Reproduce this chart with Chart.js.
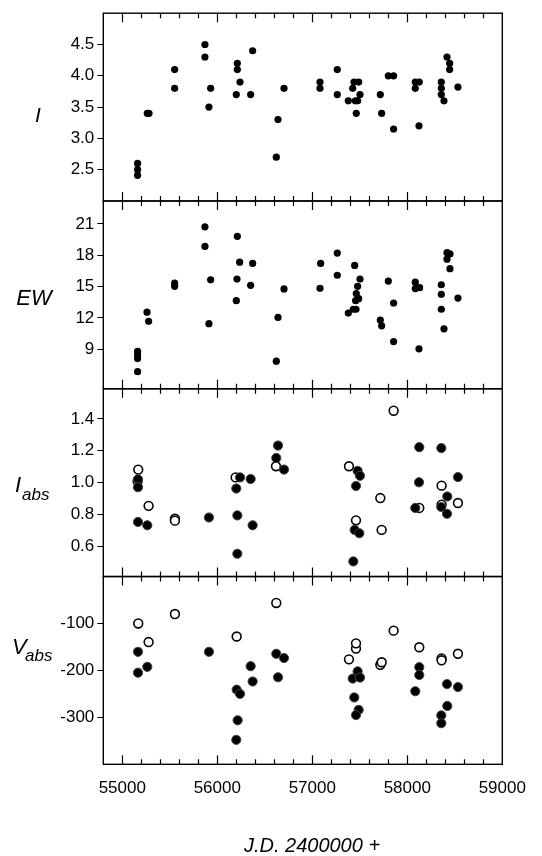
<!DOCTYPE html>
<html>
<head>
<meta charset="utf-8">
<script src="https://cdn.jsdelivr.net/npm/chart.js@4.4.1/dist/chart.umd.min.js"></script>
<style>
  html, body { margin: 0; padding: 0; background: #fff; }
  canvas { display: block; }
</style>
</head>
<body>
<canvas id="grafico" width="542" height="856"></canvas>
<script>
// ---- dados ----
const jdI  = [55161,55161,55161,55263,55281,55551,55551,55870,55870,55912,55930,56211,56211,56239,56200,56351,56372,56639,56621,56702,57081,57081,57263,57263,57379,57425,57439,57488,57453,57477,57463,57502,57716,57730,57800,57856,57856,58084,58084,58126,58123,58358,58358,58358,58386,58418,58446,58446,58533];
const valI = [2.60,2.50,2.41,3.40,3.40,4.10,3.80,4.50,4.30,3.50,3.80,4.20,4.10,3.90,3.70,3.70,4.40,3.30,2.70,3.80,3.90,3.80,4.10,3.70,3.60,3.80,3.90,3.90,3.60,3.60,3.40,3.70,3.70,3.40,4.00,4.00,3.15,3.80,3.90,3.90,3.20,3.90,3.80,3.70,3.60,4.30,4.20,4.10,3.82];

const jdEW  = [55161,55161,55161,55161,55260,55277,55551,55551,55870,55870,55930,55912,56211,56235,56207,56200,56351,56372,56639,56621,56702,57088,57081,57263,57263,57446,57379,57432,57460,57456,57463,57477,57488,57502,57716,57730,57800,57856,57856,58084,58084,58130,58123,58358,58358,58358,58386,58418,58449,58418,58449,58533];
const valEW = [8.78,8.47,8.09,6.84,12.54,11.66,15.33,15.02,20.72,18.84,15.64,11.44,19.81,17.33,15.71,13.64,15.11,17.21,12.04,7.84,14.77,17.21,14.83,18.21,16.08,17.02,12.45,12.82,12.82,13.64,14.33,15.02,13.83,15.71,11.79,11.23,15.52,13.42,9.72,15.42,14.80,14.89,9.03,15.17,14.26,12.82,10.94,18.24,18.12,17.62,16.71,13.89];

const jdIabsCheio  = [55165,55165,55165,55263,55912,56211,56211,56200,56239,56351,56372,56639,56621,56702,57477,57502,57460,57446,57495,57432,58126,58123,58084,58358,58421,58418,58358,58533];
const valIabsCheio = [1.021,0.971,0.753,0.732,0.781,0.553,0.794,0.963,1.033,1.023,0.732,1.233,1.155,1.082,1.074,1.043,0.979,0.703,0.682,0.505,1.223,1.002,0.841,1.217,0.913,0.804,0.847,1.035];
const jdIabsAberto  = [55168,55161,55277,55554,55554,56193,56618,57386,57460,57716,57730,57856,58126,58361,58361,58533];
const valIabsAberto = [1.082,1.008,0.854,0.773,0.761,1.033,1.103,1.103,0.763,0.903,0.703,1.452,0.841,0.981,0.862,0.872];

const jdVabsCheio  = [55165,55165,55263,55912,56204,56239,56214,56200,56351,56372,56621,56702,56639,57477,57425,57502,57442,57488,57460,58126,58126,58084,58418,58533,58421,58358,58358];
const valVabsCheio = [-160.4,-204.9,-192.4,-160.4,-241.0,-250.0,-306.3,-347.9,-191.0,-223.6,-164.6,-173.6,-214.6,-202.1,-217.4,-215.3,-257.6,-284.0,-295.1,-193.1,-209.7,-244.4,-229.2,-235.4,-275.7,-295.8,-312.5];
const jdVabsAberto  = [55168,55277,55554,56204,56621,57386,57460,57460,57716,57730,57856,58126,58361,58361,58533];
const valVabsAberto = [-100,-139.6,-79.9,-127.8,-56.3,-176.4,-153.5,-142.4,-188.2,-182.6,-115.3,-150.7,-174.3,-178.5,-164.6];

// marcas dos eixos
const xTicks    = [55000, 56000, 57000, 58000, 59000];
const iTicks    = [2.5, 3.0, 3.5, 4.0, 4.5];
const ewTicks   = [9, 12, 15, 18, 21];
const iabsTicks = [0.6, 0.8, 1.0, 1.2, 1.4];
const vabsTicks = [-100, -200, -300];

const FONTE = '"Liberation Sans", Arial, sans-serif';

function pares(xs, ys) {
    return xs.map((x, i) => ({ x: x, y: ys[i] }));
}

// Função para montar um eixo y de um painel
function eixoY(min, max, ticks, casas) {
    return {
        type: 'linear',
        position: 'left',
        stack: 'paineis',
        stackWeight: 1,
        min: min,
        max: max,
        afterFit: s => { s.width = 103.3; },
        afterBuildTicks: s => { s.ticks = ticks.map(v => ({ value: v })); },
        ticks: {
            color: '#000',
            font: { family: FONTE, size: 17 },
            padding: 3,
            callback: v => casas ? Number(v).toFixed(casas) : String(v)
        },
        grid: { drawOnChartArea: false, drawTicks: true, tickLength: 6, color: '#000', lineWidth: 1 },
        border: { display: false }
    };
}

// Plugin: molduras, marcas internas do eixo x e rótulos dos painéis
const molduras = {
    id: 'molduras',
    afterDraw(chart) {
        const ctx = chart.ctx;
        const xs = chart.scales.x;
        const a = chart.chartArea;
        ctx.save();
        ctx.strokeStyle = '#000';
        ctx.lineWidth = 1.4;
        ['yI', 'yEW', 'yIabs', 'yVabs'].forEach(id => {
            const s = chart.scales[id];
            ctx.strokeRect(a.left, s.top, a.right - a.left, s.bottom - s.top);
            ctx.lineWidth = 1.2;
            for (let v = 55000; v < 59000; v += 200) {
                const px = Math.round(xs.getPixelForValue(v)) + 0.5;
                const len = (v % 1000 === 0) ? 9 : 5;
                ctx.beginPath();
                ctx.moveTo(px, s.top); ctx.lineTo(px, s.top + len);
                ctx.moveTo(px, s.bottom); ctx.lineTo(px, s.bottom - len);
                ctx.stroke();
            }
            ctx.lineWidth = 1.4;
        });

        ctx.fillStyle = '#000';
        ctx.textBaseline = 'alphabetic';
        const top = id => chart.scales[id].top;
        // I
        ctx.font = 'italic 21px ' + FONTE;
        ctx.textAlign = 'center';
        ctx.fillText('I', 38, top('yI') + 109);
        // EW
        ctx.font = 'italic 22px ' + FONTE;
        ctx.fillText('EW', 34, top('yEW') + 104);
        // I abs
        ctx.textAlign = 'left';
        ctx.font = 'italic 22px ' + FONTE;
        ctx.fillText('I', 15, top('yIabs') + 103);
        ctx.font = 'italic 17px ' + FONTE;
        ctx.fillText('abs', 22, top('yIabs') + 111);
        // V abs
        ctx.font = 'italic 22px ' + FONTE;
        ctx.fillText('V', 12, top('yVabs') + 77);
        ctx.font = 'italic 17px ' + FONTE;
        ctx.fillText('abs', 25, top('yVabs') + 84);

        // título do eixo x
        ctx.textAlign = 'center';
        ctx.font = 'italic 20px ' + FONTE;
        ctx.fillText('J.D. 2400000 +', 312, 852);
        ctx.restore();
    }
};

const cheio = (dados, eixo, r) => ({
    data: dados, yAxisID: eixo,
    pointRadius: r, pointBackgroundColor: '#000',
    pointBorderColor: '#444', pointBorderWidth: r > 4 ? 1 : 0
});
const aberto = (dados, eixo) => ({
    data: dados, yAxisID: eixo,
    pointRadius: 4.4, pointBackgroundColor: '#fff',
    pointBorderColor: '#000', pointBorderWidth: 1.6
});

const ctx = document.getElementById('grafico').getContext('2d');
new Chart(ctx, {
    type: 'scatter',
    data: {
        datasets: [
            cheio(pares(jdI, valI), 'yI', 3.6),
            cheio(pares(jdEW, valEW), 'yEW', 3.6),
            cheio(pares(jdIabsCheio, valIabsCheio), 'yIabs', 4.6),
            aberto(pares(jdIabsAberto, valIabsAberto), 'yIabs'),
            cheio(pares(jdVabsCheio, valVabsCheio), 'yVabs', 4.6),
            aberto(pares(jdVabsAberto, valVabsAberto), 'yVabs')
        ]
    },
    options: {
        responsive: false,
        animation: false,
        devicePixelRatio: 1,
        layout: { padding: { left: 0, top: 2.7, right: 39.7, bottom: 0 } },
        plugins: { legend: { display: false }, tooltip: { enabled: false } },
        scales: {
            x: {
                type: 'linear',
                position: 'bottom',
                min: 54800,
                max: 59000,
                afterFit: s => { s.height = 91.7; },
                afterBuildTicks: s => { s.ticks = xTicks.map(v => ({ value: v })); },
                ticks: {
                    color: '#000',
                    font: { family: FONTE, size: 17 },
                    padding: 14,
                    maxRotation: 0,
                    callback: v => String(v)
                },
                grid: { display: false, drawTicks: false },
                border: { display: false }
            },
            // a ordem é invertida: o último eixo fica no topo da pilha
            yVabs: eixoY(-400, 0, vabsTicks, 0),
            yIabs: eixoY(0.41, 1.59, iabsTicks, 1),
            yEW: eixoY(5.2, 23.2, ewTicks, 0),
            yI: eixoY(2.0, 5.0, iTicks, 1)
        }
    },
    plugins: [molduras]
});
</script>
</body>
</html>
